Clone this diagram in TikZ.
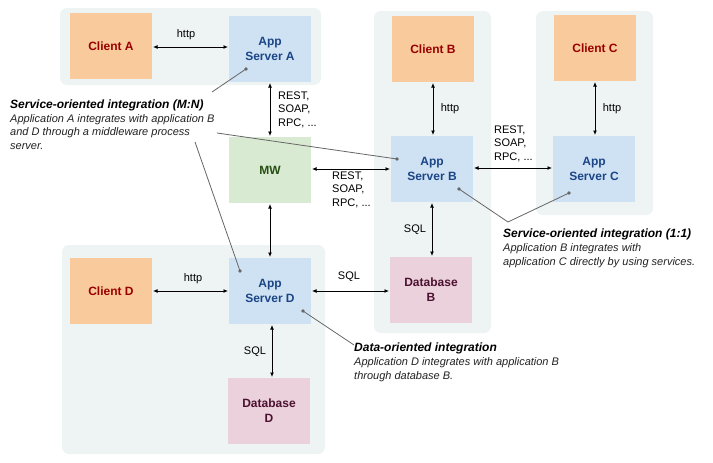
\documentclass[tikz,border=0pt]{standalone}
\usepackage{fontspec}
\setmainfont{Liberation Sans}
\usetikzlibrary{arrows.meta}
\definecolor{grpbg}{HTML}{EEF3F4}
\definecolor{clientfill}{HTML}{F9CB9C}
\definecolor{clienttext}{HTML}{990000}
\definecolor{appfill}{HTML}{CFE2F3}
\definecolor{apptext}{HTML}{1C4587}
\definecolor{mwfill}{HTML}{D9EAD3}
\definecolor{mwtext}{HTML}{274E13}
\definecolor{dbfill}{HTML}{EAD1DC}
\definecolor{dbtext}{HTML}{4C1130}
\definecolor{leadgray}{HTML}{666666}
\definecolor{bodytext}{HTML}{222222}
\begin{document}
\begin{tikzpicture}[x=1pt,y=-1pt,
  box/.style={minimum width=82pt,minimum height=66pt,inner sep=0pt,outer sep=0pt,align=center,font=\fontsize{12}{15}\selectfont\bfseries},
  client/.style={box,fill=clientfill,text=clienttext},
  app/.style={box,fill=appfill,text=apptext},
  mw/.style={box,fill=mwfill,text=mwtext},
  db/.style={box,fill=dbfill,text=dbtext},
  grp/.style={fill=grpbg,rounded corners=7pt},
  arr/.style={line width=0.9pt,{Latex[length=4.5pt,width=4pt]}-{Latex[length=4.5pt,width=4pt]},shorten <=1pt,shorten >=1pt},
  lbl/.style={inner sep=0pt,font=\fontsize{11}{13.5}\selectfont,align=left},
  lead/.style={draw=leadgray,line width=0.8pt},
  dot/.style={circle,fill=leadgray,inner sep=0pt,minimum size=3.6pt},
  annot/.style={inner sep=0pt,align=left,text=bodytext,font=\fontsize{11}{13.5}\selectfont\itshape}
]
\useasboundingbox[fill=white] (0,0) rectangle (713,463);
% groups
\fill[grp] (60,8) rectangle (321,85);
\fill[grp] (374,11) rectangle (491,333);
\fill[grp] (536,11) rectangle (653,215);
\fill[grp] (62,245) rectangle (325,454);
% boxes
\node[client] (cA) at (111,46) {Client A};
\node[app] (aA) at (270,49) {App\\Server A};
\node[mw] (mw) at (270,170) {MW};
\node[client] (cB) at (433,49) {Client B};
\node[app] (aB) at (432,169) {App\\Server B};
\node[db] (dbB) at (431,290) {Database\\B};
\node[client] (cC) at (595,48) {Client C};
\node[app] (aC) at (594,169) {App\\Server C};
\node[client] (cD) at (111,291) {Client D};
\node[app] (aD) at (270,291) {App\\Server D};
\node[db] (dbD) at (269,411) {Database\\D};
% connectors
\draw[arr] (cA.east |- 0,47) -- (aA.west |- 0,47);
\draw[arr] (aA.south) -- (mw.north);
\draw[arr] (mw.east |- 0,169) -- (aB.west |- 0,169);
\draw[arr] (cB.south) -- (cB.south |- aB.north);
\draw[arr] (aB.south) -- (aB.south |- dbB.north);
\draw[arr] (cC.south) -- (cC.south |- aC.north);
\draw[arr] (aB.east |- 0,168) -- (aC.west |- 0,168);
\draw[arr] (cD.east) -- (cD.east -| aD.west);
\draw[arr] (aD.east) -- (aD.east -| dbB.west);
\draw[arr] (mw.south) -- (mw.south |- aD.north);
\draw[arr] (aD.south -| 272,0) -- (dbD.north -| 272,0);
% connector labels
\node[lbl] (lhA) at (186,35) {http};
\node[lbl] (lhB) at (450,109) {http};
\node[lbl] (lhC) at (612,109) {http};
\node[lbl] (lhD) at (193,279) {http};
\node[lbl,anchor=base west] (lrA) at (278,126) {REST,\\SOAP,\\RPC, ...};
\node[lbl,anchor=base west] (lrB) at (332,206) {REST,\\SOAP,\\RPC, ...};
\node[lbl,anchor=base west] (lrC) at (494,160) {REST,\\SOAP,\\RPC, ...};
\node[lbl] (lsB) at (415,230) {SQL};
\node[lbl] (lsDB) at (349,277) {SQL};
\node[lbl] (lsD) at (255,352) {SQL};
% annotations (anchor = baseline of the last line)
\node[annot,anchor=base west] (nMN) at (10,149)
  {{\fontsize{12}{13.5}\selectfont\bfseries\itshape\color{black}Service-oriented integration (M:N)}\\[0.5pt]
   Application A integrates with application B\\
   and D through a middleware process\\
   server.};
\node[annot,anchor=base west] (n11) at (503,265)
  {{\fontsize{12}{13.5}\selectfont\bfseries\itshape\color{black}Service-oriented integration (1:1)}\\[0.5pt]
   Application B integrates with\\
   application C directly by using services.};
\node[annot,anchor=base west] (nDO) at (354,379)
  {{\fontsize{12}{13.5}\selectfont\bfseries\itshape\color{black}Data-oriented integration}\\[0.5pt]
   Application D integrates with application B\\
   through database B.};
% leader lines
\node[dot] (dA) at (246,69) {};
\node[dot] (dB1) at (397,159) {};
\node[dot] (dD1) at (240,271) {};
\node[dot] (dB2) at (459,189) {};
\node[dot] (dC) at (569,193) {};
\node[dot] (dD2) at (303,311) {};
\coordinate (eMN1) at (212,92);
\coordinate (eMN2) at (217,133);
\coordinate (eMN3) at (195,142);
\coordinate (e11) at (508,222);
\coordinate (eDO) at (354,345);
\draw[lead] (eMN1) -- (dA.center);
\draw[lead] (eMN2) -- (dB1.center);
\draw[lead] (eMN3) -- (dD1.center);
\draw[lead] (dB2.center) -- (e11) -- (dC.center);
\draw[lead] (eDO) -- (dD2.center);
\end{tikzpicture}
\end{document}
